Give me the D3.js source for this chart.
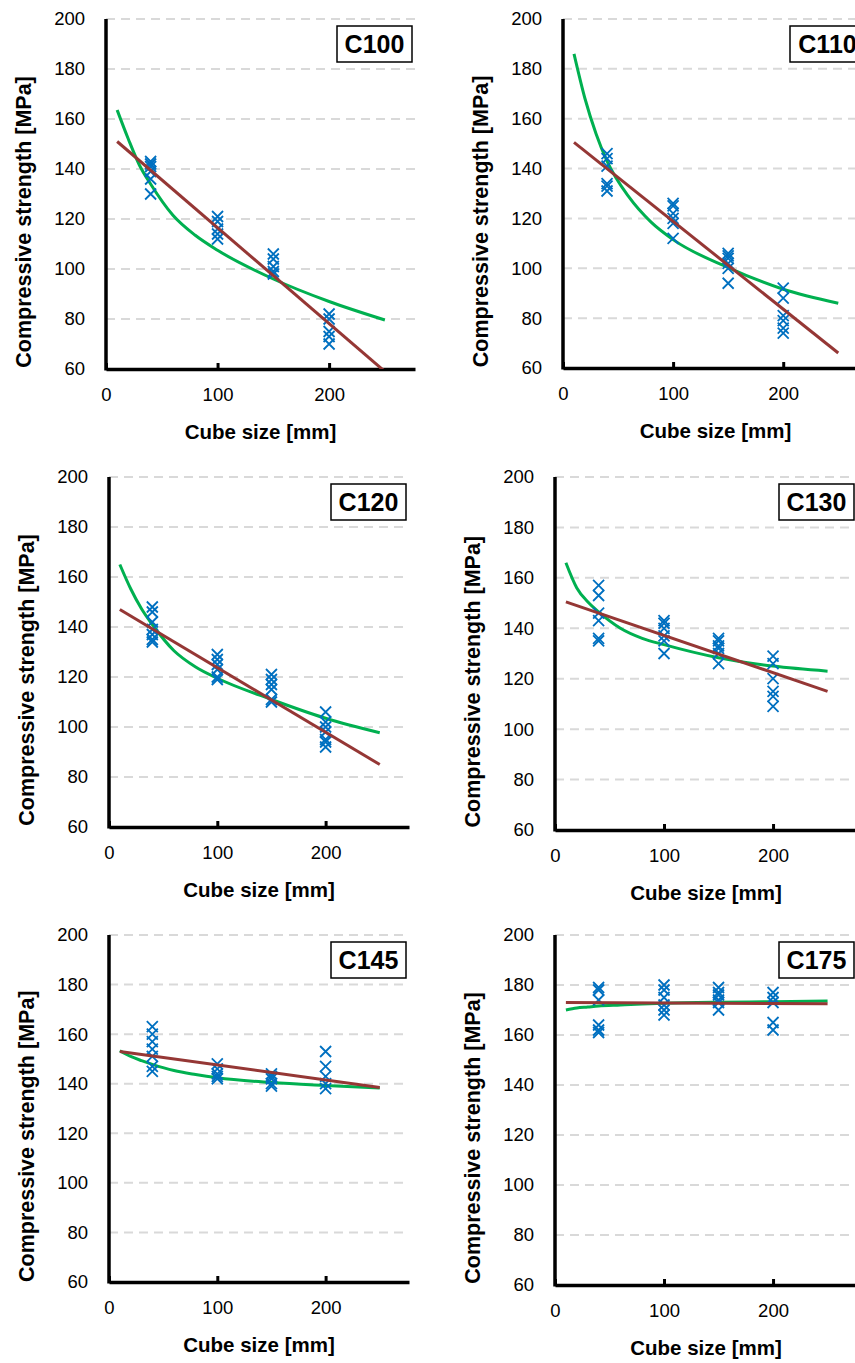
<!DOCTYPE html>
<html>
<head>
<meta charset="utf-8">
<script src="https://cdn.jsdelivr.net/npm/d3@7/dist/d3.min.js"></script>
<style>
  body { margin: 0; background: #fff; }
  svg { display: block; font-family: Arial, "Liberation Sans", sans-serif; }
</style>
</head>
<body>
<svg id="chart" width="855" height="1363"></svg>
<script>
// ---- data ----
var grades = ["C100", "C110", "C120", "C130", "C145", "C175"];
var cubeSizes = [40, 100, 150, 200];
var yTicks = [60, 80, 100, 120, 140, 160, 180, 200];
var xTicks = [0, 100, 200];

// measured strengths, one list per cube size
var strengthC100 = [[143, 142, 141, 139, 136, 130], [121, 119, 116, 114, 112], [106, 104, 101, 99, 98], [82, 80, 75, 73, 70]];
var strengthC110 = [[146, 144, 141, 134, 133, 131], [126, 125, 122, 120, 118, 112], [106, 105, 104, 102, 100, 94], [92, 88, 81, 79, 76, 74]];
var strengthC120 = [[148, 146, 142, 139, 137, 135, 134], [129, 127, 125, 123, 120, 119], [121, 119, 117, 115, 111, 110], [106, 102, 100, 98, 95, 94, 92]];
var strengthC130 = [[157, 153, 146, 143, 136, 135], [143, 142, 140, 137, 135, 130], [136, 135, 133, 132, 130, 126], [129, 126, 120, 115, 113, 109]];
var strengthC145 = [[163, 160, 157, 154, 151, 147, 145], [148, 146, 144, 143, 142], [144, 143, 142, 140, 139], [153, 147, 143, 140, 138]];
var strengthC175 = [[179, 178, 174, 164, 162, 161], [180, 178, 175, 172, 170, 168], [179, 177, 176, 174, 173, 170], [177, 175, 173, 165, 162]];

// green fitted curve, sampled along x
var fitX = [10, 20, 30, 40, 60, 80, 100, 150, 200, 250];
var fitC100 = [163.6, 152, 141.5, 134, 121.5, 113.5, 107.5, 96, 87, 79.6];
var fitC110 = [186, 168, 154, 143, 128.5, 118.5, 111.5, 100.3, 91.6, 86];
var fitC120 = [165, 155.3, 147.3, 141, 130.5, 124, 119.5, 111, 103.5, 97.7];
var fitC130 = [166, 156, 150.5, 146.5, 140, 136, 133.5, 128.3, 125, 123];
var fitC145 = [153.3, 151, 149.3, 147.8, 145.3, 143.7, 142.4, 140.5, 139.3, 138.3];
var fitC175 = [170, 170.8, 171.2, 171.6, 172, 172.4, 172.7, 173.1, 173.3, 173.6];

// brown linear trend, end points
var lineX = [10, 250];
var lineC100 = [151, 59];
var lineC110 = [150.5, 66];
var lineC120 = [147, 85];
var lineC130 = [150.5, 115];
var lineC145 = [153, 138.5];
var lineC175 = [173, 172.5];

var strengths = [strengthC100, strengthC110, strengthC120, strengthC130, strengthC145, strengthC175];
var fits = [fitC100, fitC110, fitC120, fitC130, fitC145, fitC175];
var lines = [lineC100, lineC110, lineC120, lineC130, lineC145, lineC175];

// ---- layout of the six plot areas ----
var boxes = [
  {left: 106, top: 19,  w: 309, h: 350},
  {left: 563, top: 19,  w: 305, h: 349},
  {left: 109, top: 477, w: 300, h: 350},
  {left: 555, top: 477, w: 302, h: 353},
  {left: 109, top: 935, w: 300, h: 347},
  {left: 555, top: 935, w: 302, h: 350}
];

var svg = d3.select("#chart");

grades.forEach(function(grade, i) {
  var b = boxes[i];
  var x = d3.scaleLinear().domain([0, 277]).range([0, b.w]);
  var y = d3.scaleLinear().domain([60, 200]).range([b.h, 0]);
  var g = svg.append("g").attr("transform", "translate(" + b.left + "," + b.top + ")");

  g.append("clipPath").attr("id", "clip" + i)
    .append("rect").attr("width", b.w).attr("height", b.h);

  // dashed grid
  g.selectAll(".grid").data(yTicks.filter(function(v) { return v > 60; }))
    .enter().append("line")
    .attr("x1", 0).attr("x2", b.w)
    .attr("y1", function(v) { return y(v); }).attr("y2", function(v) { return y(v); })
    .attr("stroke", "#d9d9d9").attr("stroke-width", 2)
    .attr("stroke-dasharray", "9,6");

  // axes
  var xa = g.append("g").attr("transform", "translate(0," + b.h + ")")
    .call(d3.axisBottom(x).tickValues(xTicks).tickSize(-6).tickSizeOuter(0).tickPadding(19));
  var ya = g.append("g")
    .call(d3.axisLeft(y).tickValues(yTicks).tickSize(0).tickPadding(21));
  [xa, ya].forEach(function(a) {
    a.select(".domain").attr("stroke", "#000").attr("stroke-width", 3.5);
    a.selectAll(".tick line").attr("stroke", "#000").attr("stroke-width", 3);
    a.selectAll("text").attr("font-size", 18.5).attr("fill", "#000")
      .attr("font-family", "Arial, 'Liberation Sans', sans-serif");
  });
  ya.select(".domain").attr("d", "M0," + (b.h + 1.5) + "V0");

  // titles
  g.append("text")
    .attr("x", b.w / 2).attr("y", b.h + 70)
    .attr("text-anchor", "middle").attr("font-size", 20.5).attr("font-weight", "bold")
    .text("Cube size [mm]");
  g.append("text")
    .attr("transform", "translate(-75," + (b.h * 0.58) + ") rotate(-90)")
    .attr("text-anchor", "middle").attr("font-size", 21.5).attr("font-weight", "bold")
    .text("Compressive strength [MPa]");

  var plot = g.append("g").attr("clip-path", "url(#clip" + i + ")");

  // green fitted curve
  var curve = d3.line().x(function(d) { return x(d[0]); }).y(function(d) { return y(d[1]); })
    .curve(d3.curveMonotoneX);
  plot.append("path")
    .datum(fitX.map(function(v, k) { return [v, fits[i][k]]; }))
    .attr("d", curve).attr("fill", "none")
    .attr("stroke", "#00b050").attr("stroke-width", 3);

  // points
  var pts = [];
  strengths[i].forEach(function(list, k) {
    list.forEach(function(v) { pts.push([cubeSizes[k], v]); });
  });
  plot.selectAll(".pt").data(pts).enter().append("path")
    .attr("transform", function(d) { return "translate(" + x(d[0]) + "," + y(d[1]) + ")"; })
    .attr("d", "M-5.5,-5.5L5.5,5.5M-5.5,5.5L5.5,-5.5")
    .attr("stroke", "#0070c0").attr("stroke-width", 1.8).attr("fill", "none");

  // brown linear trend
  plot.append("path")
    .datum(lineX.map(function(v, k) { return [v, lines[i][k]]; }))
    .attr("d", d3.line().x(function(d) { return x(d[0]); }).y(function(d) { return y(d[1]); }))
    .attr("fill", "none").attr("stroke", "#953735").attr("stroke-width", 3);

  // grade label box
  var lb = g.append("g").attr("transform", "translate(" + (b.w - 78) + ",7)");
  lb.append("rect").attr("width", 75).attr("height", 36)
    .attr("fill", "#fff").attr("stroke", "#000").attr("stroke-width", 1.5);
  lb.append("text").attr("x", 37.5).attr("y", 27)
    .attr("text-anchor", "middle").attr("font-size", 25).attr("font-weight", "bold")
    .text(grade);
});
</script>
</body>
</html>
